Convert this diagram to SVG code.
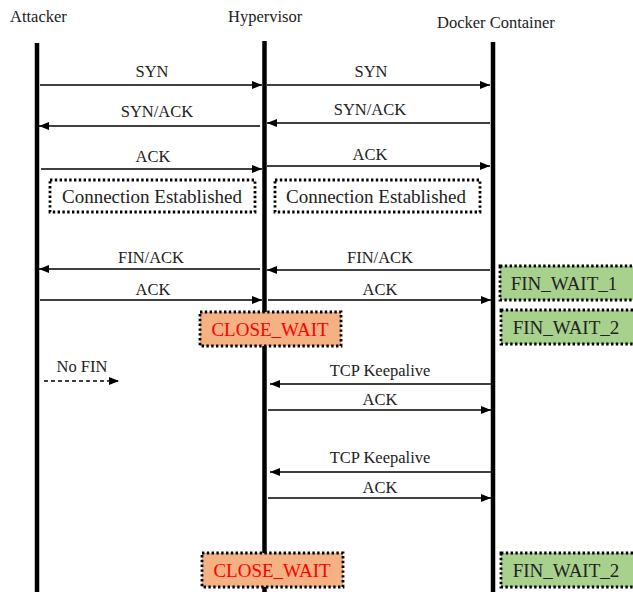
<svg xmlns="http://www.w3.org/2000/svg" width="633" height="592" viewBox="0 0 633 592">
<defs>
<marker id="ah" viewBox="0 0 10 8" refX="10" refY="4" markerWidth="10" markerHeight="8" markerUnits="userSpaceOnUse" orient="auto">
<path d="M0,0 L10,4 L0,8 Z" fill="#000"/>
</marker>
<style>
text{font-family:"Liberation Serif","Times New Roman",serif;fill:#222;}
.h{font-size:16.5px;}
.l{font-size:16.5px;text-anchor:middle;}
.b{font-size:19px;text-anchor:middle;}
.life{stroke:#000;stroke-width:4.5;}
.msg{stroke:#000;stroke-width:1.5;fill:none;marker-end:url(#ah);}
.dash{stroke-dasharray:4,3;}
.box{stroke:#000;stroke-width:2.8;stroke-dasharray:2.4,2.4;}
.cw{fill:#F4B183;}
.fw{fill:#A9D18E;}
.red{fill:#FF0000;}
</style>
</defs>
<rect width="633" height="592" fill="#fff"/>
<g id="attacker">
<text class="h" x="10" y="22">Attacker</text>
<line class="life" x1="37" y1="43" x2="37" y2="592"/>
</g>
<g id="hypervisor">
<text class="h" x="228" y="22">Hypervisor</text>
<line class="life" x1="264.5" y1="41" x2="264.5" y2="592"/>
</g>
<g id="docker">
<text class="h" x="437" y="28">Docker Container</text>
<line class="life" x1="493" y1="42" x2="493" y2="592"/>
</g>
<g id="connectors">
<line class="msg" x1="40" y1="85" x2="262" y2="85"/>
<text class="l" x="152" y="77">SYN</text>
<line class="msg" x1="267" y1="85" x2="490" y2="85"/>
<text class="l" x="371" y="77">SYN</text>
<line class="msg" x1="260" y1="126" x2="39" y2="126"/>
<text class="l" x="157" y="117">SYN/ACK</text>
<line class="msg" x1="490" y1="123" x2="267" y2="123"/>
<text class="l" x="370" y="115">SYN/ACK</text>
<line class="msg" x1="41" y1="169" x2="262" y2="169"/>
<text class="l" x="153" y="162">ACK</text>
<line class="msg" x1="267" y1="166" x2="490" y2="166"/>
<text class="l" x="370" y="160">ACK</text>
<line class="msg" x1="260" y1="269" x2="39" y2="269"/>
<text class="l" x="151" y="263">FIN/ACK</text>
<line class="msg" x1="490" y1="270" x2="267" y2="270"/>
<text class="l" x="380" y="263">FIN/ACK</text>
<line class="msg" x1="40" y1="300" x2="262" y2="300"/>
<text class="l" x="153" y="295">ACK</text>
<line class="msg" x1="268" y1="300" x2="491" y2="300"/>
<text class="l" x="380" y="295">ACK</text>
<line class="msg dash" x1="44" y1="381" x2="119" y2="381"/>
<text class="l" x="82" y="372">No FIN</text>
<line class="msg" x1="491" y1="384" x2="270" y2="384"/>
<text class="l" x="380" y="376">TCP Keepalive</text>
<line class="msg" x1="268" y1="410" x2="491" y2="410"/>
<text class="l" x="380" y="405">ACK</text>
<line class="msg" x1="491" y1="472" x2="270" y2="472"/>
<text class="l" x="380" y="463">TCP Keepalive</text>
<line class="msg" x1="268" y1="498" x2="491" y2="498"/>
<text class="l" x="380" y="493">ACK</text>
</g>
<g id="conn-left">
<rect class="box" x="50" y="180" width="205" height="32" fill="#fff"/>
<text class="b" x="152" y="203">Connection Established</text>
</g>
<g id="conn-right">
<rect class="box" x="275" y="180" width="205" height="32" fill="#fff"/>
<text class="b" x="376" y="203">Connection Established</text>
</g>
<g id="close-wait-1">
<rect class="box cw" x="200" y="312" width="141" height="34"/>
<text class="b red" x="270" y="336">CLOSE_WAIT</text>
</g>
<g id="fin-wait-1">
<rect class="box fw" x="500" y="266" width="140" height="34"/>
<text class="b" x="564" y="290">FIN_WAIT_1</text>
</g>
<g id="fin-wait-2a">
<rect class="box fw" x="501" y="310" width="140" height="34"/>
<text class="b" x="566" y="334">FIN_WAIT_2</text>
</g>
<g id="close-wait-2">
<rect class="box cw" x="202" y="553" width="141" height="34"/>
<text class="b red" x="272" y="577">CLOSE_WAIT</text>
</g>
<g id="fin-wait-2b">
<rect class="box fw" x="501" y="553" width="140" height="34"/>
<text class="b" x="566" y="577">FIN_WAIT_2</text>
</g>
</svg>
